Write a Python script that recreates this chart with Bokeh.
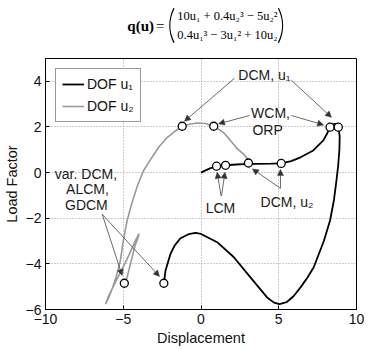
import math
from bokeh.plotting import figure
from bokeh.models import Range1d, Arrow, NormalHead, Legend, LegendItem, ColumnDataSource
from bokeh.layouts import column
from bokeh.embed import file_html
from bokeh.resources import INLINE
from bokeh.core.properties import value

# ---------------- data ----------------
u1_disp = [0.0, 0.3, 0.6, 1.0, 1.58, 2.5, 3.5, 4.5, 5.16, 5.8, 6.4, 7.22, 7.87, 8.1, 8.3, 8.45, 8.6, 8.75, 8.83,
           8.92, 8.9, 8.82, 8.72, 8.55, 8.3, 7.9, 7.25, 6.85, 6.4, 5.95, 5.5, 5.05, 4.7, 4.25, 3.18, 2.1, 1.04,
           0.0, -0.35, -0.8, -1.32, -1.7, -1.96, -2.28, -2.39]
u1_load = [0.0, 0.1, 0.19, 0.27, 0.32, 0.36, 0.38, 0.39, 0.40, 0.5, 0.67, 0.97, 1.41, 1.7, 1.99, 2.1, 2.14, 2.1, 1.99,
           1.6, 1.0, 0.3, -0.3, -1.2, -2.1, -3.0, -4.15, -4.6, -5.03, -5.42, -5.68, -5.76, -5.7, -5.47, -4.59,
           -3.7, -3.05, -2.69, -2.64, -2.7, -2.88, -3.2, -3.56, -4.29, -4.85]

u2_disp = [0.0, 0.3, 0.7, 1.2, 2.0, 2.6, 2.95, 3.07, 3.0, 2.7, 2.33, 1.9, 1.46, 0.82, 0.3, -0.25, -0.75, -1.21,
           -1.7, -2.2, -2.7, -3.2, -3.7, -4.1, -4.45, -4.75, -5.0, -5.2, -5.45, -5.71, -5.95, -6.14,
           -5.93, -5.5, -5.05, -4.64, -4.3, -4.08, -3.98, -4.05, -4.24, -4.5, -4.78, -4.93]
u2_load = [0.0, 0.1, 0.22, 0.3, 0.36, 0.385, 0.41, 0.47, 0.6, 0.83, 1.05, 1.4, 1.75, 2.03, 2.15, 2.17, 2.12, 2.03,
           1.8, 1.52, 1.13, 0.62, 0.08, -0.6, -1.35, -2.1, -3.0, -3.9, -4.55, -5.09, -5.5, -5.76,
           -5.39, -4.8, -4.2, -3.63, -3.1, -2.8, -2.68, -2.85, -3.2, -3.9, -4.66, -4.85]

marker_x = [-2.39, 1.0, 1.58, 5.16, 8.3, 8.83, -4.93, -1.21, 0.82, 3.05]
marker_y = [-4.85, 0.28, 0.32, 0.40, 1.99, 1.99, -4.85, 2.03, 2.03, 0.42]

x_ticks = [-10, -5, 0, 5, 10]
x_tick_labels = ["\u221210", "\u22125", "0", "5", "10"]
y_ticks = [-6, -4, -2, 0, 2, 4]
y_tick_labels = ["\u22126", "\u22124", "\u22122", "0", "2", "4"]

note_text = ["DCM, u\u2081", "WCM,", "ORP", "var. DCM,", "ALCM,", "GDCM", "LCM", "DCM, u\u2082"]
note_x = [4.08, 4.47, 4.28, -7.4, -7.3, -7.37, 1.25, 5.53]
note_y = [4.26, 2.61, 1.85, -0.05, -0.72, -1.44, -1.57, -1.29]

arrow_x0 = [2.15, 5.82, 3.12, 5.82, -6.35, -6.35, 1.29, 1.32, 5.11, 5.11]
arrow_y0 = [4.13, 4.04, 2.50, 2.50, -1.83, -1.83, -1.02, -1.02, -0.69, -0.69]
arrow_x1 = [-1.06, 8.39, 1.13, 7.88, -5.07, -2.67, 1.04, 1.54, 5.11, 3.31]
arrow_y1 = [2.25, 2.42, 2.14, 2.09, -4.51, -4.55, 0.01, 0.01, 0.14, 0.16]

formula_lines = ["10u\u2081 + 0.4u\u2082\u00b3 \u2212 5u\u2082\u00b2",
                 "0.4u\u2081\u00b3 \u2212 3u\u2081\u00b2 + 10u\u2082"]

SANS = "Liberation Sans"
SERIF = "Liberation Serif"

# ---------------- header with the formula ----------------
h = figure(width=380, height=57, x_range=Range1d(0, 380), y_range=Range1d(57, 0),
           toolbar_location=None, output_backend="svg", min_border=0)
h.axis.visible = False
h.grid.visible = False
h.outline_line_color = None
h.text(x=[100], y=[25], text=["q(u)"], text_font=value(SERIF), text_font_style="bold",
       text_font_size="15px", text_baseline="middle", text_color="black")
h.text(x=[135], y=[25], text=["="], text_font=value(SERIF),
       text_font_size="15px", text_baseline="middle", text_color="black")
h.text(x=[161, 161], y=[15, 34], text=formula_lines, text_font=value(SERIF),
       text_font_size="12.5px", text_baseline="middle", text_color="black")
# big parentheses drawn as shallow arcs
half = math.asin(21 / 46.6)
h.arc(x=[198.6], y=[25], radius=46.6, start_angle=math.pi - half, end_angle=math.pi + half,
      line_color="black", line_width=1.3)
h.arc(x=[243.0], y=[25], radius=46.6, start_angle=-half, end_angle=half,
      line_color="black", line_width=1.3)

# ---------------- main plot ----------------
p = figure(width=380, height=292, x_range=Range1d(-10, 10), y_range=Range1d(-6, 5),
           toolbar_location=None, output_backend="svg",
           min_border_left=45, min_border_right=24, min_border_top=1, min_border_bottom=40,
           x_axis_label="Displacement", y_axis_label="Load Factor")
p.background_fill_color = "white"
p.outline_line_color = "black"
p.outline_line_width = 1

p.xaxis.ticker = x_ticks
p.yaxis.ticker = y_ticks
p.xaxis.major_label_overrides = dict(zip(x_ticks, x_tick_labels))
p.yaxis.major_label_overrides = dict(zip(y_ticks, y_tick_labels))
for ax in (p.xaxis, p.yaxis):
    ax.major_tick_in = 4
    ax.major_tick_out = 0
    ax.minor_tick_line_color = None
    ax.axis_line_color = "black"
    ax.major_tick_line_color = "black"
    ax.major_label_text_font = SANS
    ax.major_label_text_font_size = "14px"
    ax.major_label_text_color = "#111111"
    ax.axis_label_text_font = SANS
    ax.axis_label_text_font_size = "14.5px"
    ax.axis_label_text_font_style = "normal"
    ax.axis_label_text_color = "#111111"
    ax.major_label_standoff = 4
    ax.axis_label_standoff = 3

p.grid.grid_line_color = "#9a9a9a"
p.grid.grid_line_dash = "1 2"
p.grid.grid_line_width = 1

r2 = p.line(u2_disp, u2_load, line_color="#999999", line_width=1.6)
r1 = p.line(u1_disp, u1_load, line_color="black", line_width=1.8)

p.scatter(marker_x, marker_y, size=8, marker="circle", fill_color="white",
          line_color="black", line_width=1.3)

arrow_src = ColumnDataSource(dict(x0=arrow_x0, y0=arrow_y0, x1=arrow_x1, y1=arrow_y1))
p.add_layout(Arrow(source=arrow_src, x_start="x0", y_start="y0", x_end="x1", y_end="y1",
                   line_color="#444444", line_width=0.8,
                   end=NormalHead(size=6, fill_color="#333333", line_color="#333333", line_width=0.5)))

p.text(x=note_x, y=note_y, text=note_text, text_font=value(SANS), text_font_size="14px",
       text_align="center", text_baseline="middle", text_color="#1a1a1a")

legend = Legend(items=[LegendItem(label="DOF u\u2081", renderers=[r1]),
                       LegendItem(label="DOF u\u2082", renderers=[r2])],
                location="top_left")
legend.margin = 10
legend.padding = 6
legend.spacing = 4
legend.glyph_width = 22
legend.glyph_height = 18
legend.label_height = 18
legend.label_standoff = 3
legend.label_text_font = SANS
legend.label_text_font_size = "14px"
legend.label_text_color = "#111111"
legend.border_line_color = "#333333"
legend.border_line_width = 1
legend.background_fill_color = "white"
legend.background_fill_alpha = 1
p.add_layout(legend)

layout = column(h, p, spacing=0)
open("out.html", "w").write(file_html(layout, INLINE))
